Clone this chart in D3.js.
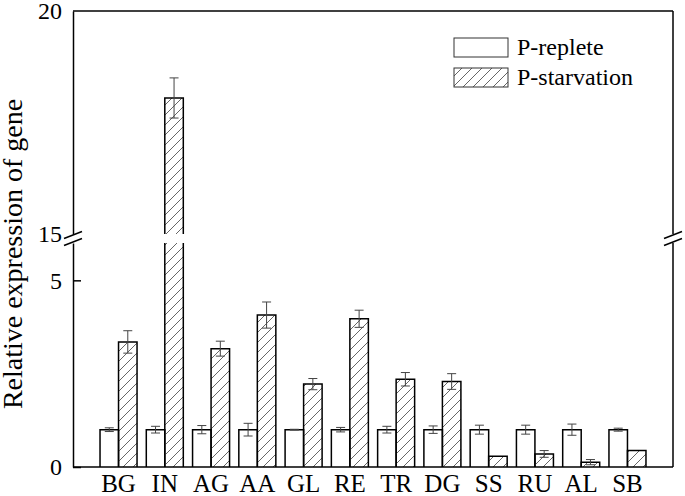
<!DOCTYPE html>
<html>
<style>
    body { margin: 0; background: #fff; }
    text { font-family: "Liberation Serif", "Times New Roman", serif; fill: #000; }
</style>

<head>
    <script src="https://d3js.org/d3.v7.min.js"></script>
</head>

<body>

    <!-- Create a div where the graph will take place -->
    <div id="my_dataviz"></div>

    <script>

        // data
        var genes = ["BG", "IN", "AG", "AA", "GL", "RE", "TR", "DG", "SS", "RU", "AL", "SB"];
        var replete = [1.0, 1.0, 1.0, 1.0, 1.0, 1.0, 1.0, 1.0, 1.0, 1.0, 1.0, 1.0];
        var repleteErr = [0.05, 0.09, 0.11, 0.17, 0.01, 0.06, 0.09, 0.1, 0.12, 0.12, 0.15, 0.04];
        var starvation = [3.35, 18.05, 3.17, 4.07, 2.22, 3.97, 2.35, 2.29, 0.29, 0.35, 0.13, 0.44];
        var starvationErr = [0.3, 0.45, 0.2, 0.35, 0.15, 0.23, 0.18, 0.21, 0, 0.09, 0.07, 0];
        var lowTicks = [0, 5];
        var highTicks = [15, 20];
        var seriesNames = ["P-replete", "P-starvation"];

        // set the dimensions of the graph
        var W = 685, H = 496;
        var plotL = 73, plotR = 673, plotT = 11, plotB = 467;
        var breakLow = 243, breakHigh = 234;

        var svg = d3.select("#my_dataviz")
            .append("svg")
            .attr("width", W)
            .attr("height", H);

        // hatch pattern
        var defs = svg.append("defs");
        defs.append("pattern")
            .attr("id", "hatch")
            .attr("patternUnits", "userSpaceOnUse")
            .attr("width", 10)
            .attr("height", 10)
            .append("path")
            .attr("d", "M-2,2 L2,-2 M0,10 L10,0 M8,12 L12,8")
            .attr("stroke", "#555")
            .attr("stroke-width", 0.9);

        // X scale
        var x = d3.scaleBand()
            .domain(genes)
            .range([95.4, 650.6])
            .paddingInner(0.2)
            .paddingOuter(0.1);
        var bw = x.bandwidth() / 2;

        // two y scales for the broken axis
        var yLow = d3.scaleLinear().domain([0, 6]).range([plotB, breakLow]);
        var yHigh = d3.scaleLinear().domain([15, 20]).range([breakHigh, plotT]);
        function y(v) { return v > 10 ? yHigh(v) : yLow(v); }

        // bars (a bar over 6 is split in two pieces)
        function drawBar(x0, v, fill) {
            var segs = v > 6 ? [[yLow(0), yLow(6), false], [yHigh(15), yHigh(v), true]] : [[yLow(0), yLow(v), true]];
            segs.forEach(function (s) {
                var y0 = s[0], y1 = s[1];
                svg.append("rect")
                    .attr("x", x0).attr("y", y1)
                    .attr("width", bw).attr("height", y0 - y1)
                    .attr("fill", fill);
                var d = "M" + x0 + "," + y0 + " L" + x0 + "," + y1;
                if (s[2]) d += " L" + (x0 + bw) + "," + y1;
                else d += " M" + (x0 + bw) + "," + y1;
                d += " L" + (x0 + bw) + "," + y0;
                svg.append("path")
                    .attr("d", d)
                    .attr("fill", "none")
                    .attr("stroke", "#000")
                    .attr("stroke-width", 1.5);
            });
        }

        function drawErr(cx, v, e) {
            if (e <= 0) return;
            var g = svg.append("g")
                .attr("stroke", "#444")
                .attr("stroke-width", 1);
            g.append("line").attr("x1", cx).attr("x2", cx).attr("y1", y(v - e)).attr("y2", y(v + e));
            g.append("line").attr("x1", cx - 4.5).attr("x2", cx + 4.5).attr("y1", y(v - e)).attr("y2", y(v - e));
            g.append("line").attr("x1", cx - 4.5).attr("x2", cx + 4.5).attr("y1", y(v + e)).attr("y2", y(v + e));
        }

        genes.forEach(function (gname, i) {
            var x0 = x(gname);
            drawBar(x0, replete[i], "#fff");
            drawBar(x0 + bw, starvation[i], "url(#hatch)");
            drawErr(x0 + bw / 2, replete[i], repleteErr[i]);
            drawErr(x0 + bw * 1.5, starvation[i], starvationErr[i]);
        });

        // axes
        var fmt = d3.format("d");
        var axLow = svg.append("g")
            .attr("transform", "translate(" + plotL + ",0)")
            .call(d3.axisLeft(yLow).tickValues(lowTicks).tickFormat(fmt).tickSizeInner(-8).tickSizeOuter(0).tickPadding(11));
        var axHigh = svg.append("g")
            .attr("transform", "translate(" + plotL + ",0)")
            .call(d3.axisLeft(yHigh).tickValues(highTicks).tickFormat(fmt).tickSizeInner(0).tickSizeOuter(0).tickPadding(11));
        [axLow, axHigh].forEach(function (a) {
            a.selectAll("path, line").attr("stroke", "#000").attr("stroke-width", 1.5);
            a.selectAll("text").style("font-size", "24px").attr("fill", "#000")
                .style("font-family", "'Liberation Serif', 'Times New Roman', serif");
        });

        // right side and frame
        var frame = svg.append("g").attr("stroke", "#000").attr("stroke-width", 1.5).attr("fill", "none");
        frame.append("line").attr("x1", plotL).attr("x2", plotR).attr("y1", plotT).attr("y2", plotT);
        frame.append("line").attr("x1", plotL).attr("x2", plotR).attr("y1", plotB).attr("y2", plotB);
        frame.append("line").attr("x1", plotR).attr("x2", plotR).attr("y1", plotT).attr("y2", breakHigh);
        frame.append("line").attr("x1", plotR).attr("x2", plotR).attr("y1", breakLow).attr("y2", plotB);

        // break marks
        [plotL, plotR].forEach(function (ax) {
            [breakHigh + 1, breakLow - 1].forEach(function (by) {
                frame.append("line")
                    .attr("x1", ax - 9).attr("y1", by + 3.5)
                    .attr("x2", ax + 9).attr("y2", by - 3.5);
            });
        });

        // category labels
        svg.append("g").selectAll("text")
            .data(genes)
            .enter().append("text")
            .attr("x", function (d) { return x(d) + x.bandwidth() / 2; })
            .attr("y", 492)
            .attr("text-anchor", "middle")
            .style("font-size", "25px")
            .text(function (d) { return d; });

        // y label
        svg.append("text")
            .attr("transform", "translate(22,254) rotate(-90)")
            .attr("text-anchor", "middle")
            .style("font-size", "28px")
            .text("Relative expression of gene");

        // legend
        var legend = svg.append("g");
        seriesNames.forEach(function (n, i) {
            legend.append("rect")
                .attr("x", 454).attr("y", 38 + i * 30)
                .attr("width", 54).attr("height", 19)
                .attr("fill", i === 0 ? "#fff" : "url(#hatch)")
                .attr("stroke", "#333")
                .attr("stroke-width", 1);
            legend.append("text")
                .attr("x", 517).attr("y", 55 + i * 30)
                .style("font-size", "24px")
                .text(n);
        });

    </script>
</body>

</html>
